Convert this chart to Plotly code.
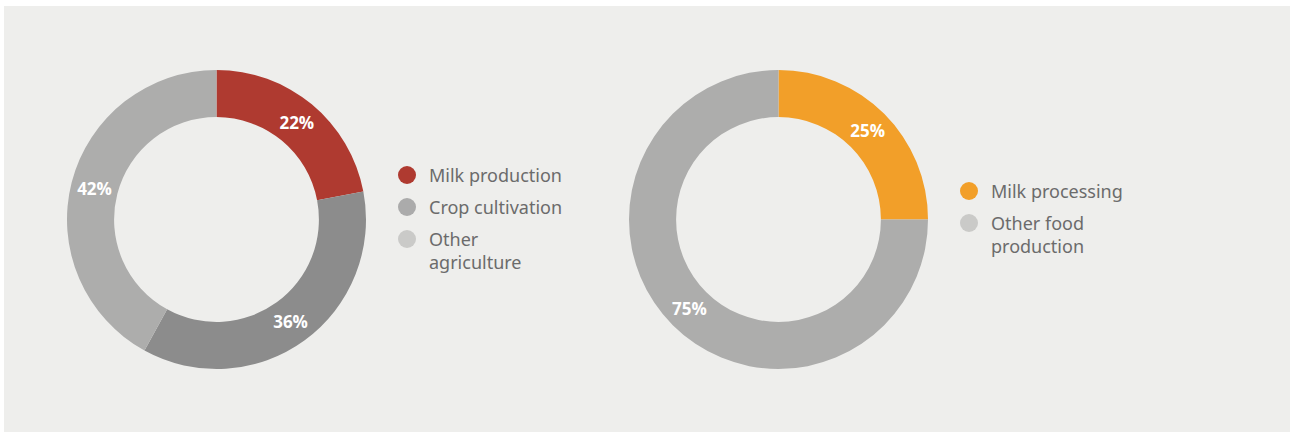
import plotly.graph_objects as go

W, H = 1290, 432

# Data
agri_labels = ["Milk production", "Crop cultivation", "Other agriculture"]
agri_values = [22, 36, 42]
agri_colors = ["#AF3A30", "#8C8C8C", "#ADADAC"]
agri_legend_text = ["Milk production", "Crop cultivation", "Other<br>agriculture"]
agri_legend_colors = ["#AF3A30", "#ABABAB", "#CACAC8"]

food_labels = ["Milk processing", "Other food production"]
food_values = [25, 75]
food_colors = ["#F29F29", "#ADADAC"]
food_legend_text = ["Milk processing", "Other food<br>production"]
food_legend_colors = ["#F29F29", "#CACAC8"]

def px_x(x):
    return x / W

def px_y(y):
    return 1 - y / H

fig = go.Figure()

pie_common = dict(
    hole=0.685,
    sort=False,
    direction="clockwise",
    rotation=0,
    textinfo="percent",
    textposition="inside",
    insidetextorientation="horizontal",
    textfont=dict(color="white", size=17, family="Open Sans, sans-serif", weight="bold"),
    marker=dict(line=dict(width=0)),
    showlegend=False,
)

fig.add_trace(go.Pie(
    labels=agri_labels, values=agri_values,
    marker_colors=agri_colors,
    domain=dict(x=[px_x(67), px_x(366)], y=[px_y(369), px_y(70)]),
    **pie_common,
))
fig.add_trace(go.Pie(
    labels=food_labels, values=food_values,
    marker_colors=food_colors,
    domain=dict(x=[px_x(629), px_x(928)], y=[px_y(369), px_y(70)]),
    **pie_common,
))

shapes = [
    dict(type="rect", xref="paper", yref="paper",
         x0=px_x(4), x1=1, y0=0, y1=px_y(6),
         fillcolor="#EEEEEC", line=dict(width=0), layer="below"),
]
annotations = []

def add_legend(texts, colors, mx, tx, y0, step):
    for i, (t, c) in enumerate(zip(texts, colors)):
        cy = y0 + i * step
        r = 9
        shapes.append(dict(type="circle", xref="paper", yref="paper",
                           x0=px_x(mx - r), x1=px_x(mx + r),
                           y0=px_y(cy + r), y1=px_y(cy - r),
                           fillcolor=c, line=dict(width=0)))
        annotations.append(dict(
            x=px_x(tx), y=px_y(cy - 14), xref="paper", yref="paper",
            xanchor="left", yanchor="top", align="left",
            text=t, showarrow=False,
            font=dict(size=18, color="#6B6B6B", family="Noto Sans, sans-serif"),
        ))

add_legend(agri_legend_text, agri_legend_colors, 407, 427, 175, 32)
add_legend(food_legend_text, food_legend_colors, 969, 989, 191, 32)

fig.update_layout(
    width=W, height=H,
    margin=dict(l=0, r=0, t=0, b=0),
    paper_bgcolor="white",
    plot_bgcolor="white",
    shapes=shapes,
    annotations=annotations,
)

fig.write_html(
    "out.html",
    config={"displayModeBar": False},
    post_script="document.body.style.margin='0';",
)
